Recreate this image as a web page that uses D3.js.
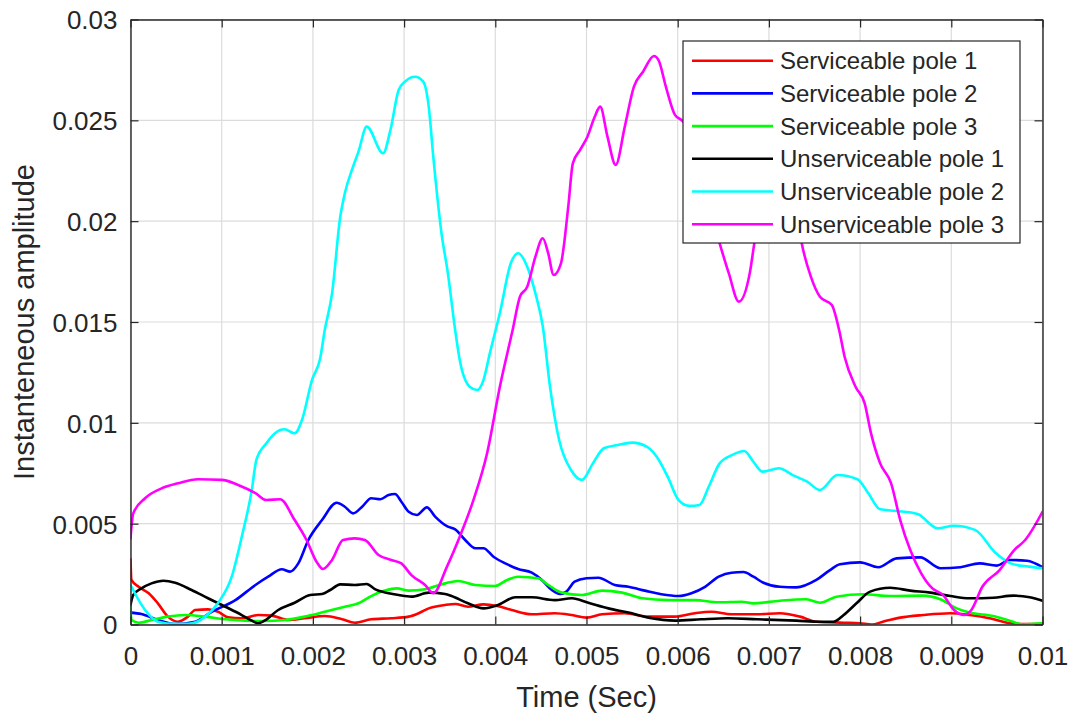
<!DOCTYPE html>
<html>
<head>
<meta charset="utf-8">
<script src="https://cdn.jsdelivr.net/npm/d3@7"></script>
<style>
  html, body { margin: 0; padding: 0; background: #fff; }
  svg { display: block; }
  text { font-family: "Liberation Sans", Arial, Helvetica, sans-serif; fill: #262626; }
</style>
</head>
<body>
<svg id="chart" width="1070" height="715"></svg>
<script>
// ---------------- data ----------------
const xTickValues = [0, 0.001, 0.002, 0.003, 0.004, 0.005, 0.006, 0.007, 0.008, 0.009, 0.01];
const xTickLabels = ["0", "0.001", "0.002", "0.003", "0.004", "0.005", "0.006", "0.007", "0.008", "0.009", "0.01"];
const yTickValues = [0, 0.005, 0.01, 0.015, 0.02, 0.025, 0.03];
const yTickLabels = ["0", "0.005", "0.01", "0.015", "0.02", "0.025", "0.03"];

const seriesNames = ["Serviceable pole 1", "Serviceable pole 2", "Serviceable pole 3",
                     "Unserviceable pole 1", "Unserviceable pole 2", "Unserviceable pole 3"];
const seriesColors = ["#ff0000", "#0000ff", "#00ff00", "#000000", "#00ffff", "#ff00ff"];

// [time (s), amplitude]
const serviceable1 = [[0,0.00323],[0.00001,0.00221],[0.00009,0.00187],[0.0002,0.00155],[0.0003,0.00105],[0.00041,0.00039],[0.00052,0.00014],[0.00063,0.00039],[0.00071,0.00072],[0.00085,0.00075],[0.00096,0.00063],[0.00107,0.00036],[0.00122,0.00031],[0.0014,0.00047],[0.00155,0.00044],[0.00173,0.00022],[0.00191,0.00031],[0.00213,0.00042],[0.00232,0.00026],[0.00246,0.00009],[0.00264,0.00026],[0.00286,0.00031],[0.00305,0.00039],[0.00316,0.00056],[0.00327,0.0008],[0.00345,0.00097],[0.00356,0.00102],[0.0037,0.00088],[0.00387,0.001],[0.00402,0.00092],[0.00418,0.00072],[0.0044,0.00051],[0.00465,0.00056],[0.00484,0.00047],[0.005,0.00034],[0.00517,0.00051],[0.00542,0.00056],[0.00568,0.00039],[0.00597,0.00039],[0.00619,0.00056],[0.00637,0.00063],[0.00659,0.00051],[0.00687,0.00051],[0.00712,0.00056],[0.00734,0.00039],[0.00752,0.00014],[0.00782,0.00009],[0.008,0.00006],[0.00813,0],[0.00825,0.00014],[0.00844,0.00034],[0.00869,0.00047],[0.00899,0.00056],[0.0092,0.00047],[0.00942,0.00031],[0.00961,0.00009],[0.00979,0.00002],[0.01,0.00002]];

const serviceable2 = [[0,0.00059],[0.00012,0.00052],[0.0003,0.00022],[0.00049,0.00002],[0.00071,0.00014],[0.00089,0.00063],[0.00115,0.00121],[0.00137,0.00196],[0.00151,0.00237],[0.00166,0.00274],[0.00175,0.00262],[0.00184,0.00303],[0.00195,0.00419],[0.0021,0.00518],[0.00226,0.00604],[0.00235,0.00584],[0.00244,0.00551],[0.00254,0.00584],[0.00264,0.00626],[0.00274,0.00621],[0.00283,0.00642],[0.0029,0.00647],[0.00297,0.00609],[0.00305,0.00559],[0.00314,0.00543],[0.00325,0.00581],[0.00334,0.00535],[0.00348,0.00485],[0.00356,0.00472],[0.00367,0.00419],[0.00378,0.00378],[0.00387,0.00378],[0.00398,0.00336],[0.00411,0.00303],[0.00425,0.00275],[0.0044,0.00257],[0.00451,0.00221],[0.00462,0.00171],[0.00471,0.00151],[0.00478,0.00163],[0.00487,0.00212],[0.005,0.00229],[0.00513,0.00232],[0.00531,0.00196],[0.00546,0.00187],[0.00564,0.00168],[0.00582,0.0015],[0.00601,0.00141],[0.00615,0.00155],[0.0063,0.00187],[0.00645,0.00237],[0.00659,0.00257],[0.00672,0.0026],[0.00683,0.00237],[0.00694,0.00207],[0.00712,0.00187],[0.0073,0.00184],[0.00752,0.00221],[0.00767,0.0027],[0.00778,0.00299],[0.008,0.00308],[0.0082,0.00284],[0.0084,0.00328],[0.00866,0.00333],[0.00888,0.00279],[0.0091,0.00284],[0.00931,0.00303],[0.0095,0.00292],[0.00964,0.0032],[0.00983,0.00316],[0.01,0.00284]];

const serviceable3 = [[0,0.00088],[0.00001,0.00022],[0.00009,0.00009],[0.00023,0.00022],[0.00041,0.00039],[0.0006,0.00047],[0.00082,0.00039],[0.00104,0.00026],[0.00126,0.00019],[0.00147,0.00017],[0.00169,0.00022],[0.00191,0.00039],[0.00213,0.00063],[0.00235,0.00088],[0.0025,0.00105],[0.00264,0.00141],[0.00279,0.00168],[0.00292,0.00179],[0.00305,0.00168],[0.00323,0.00175],[0.00345,0.00204],[0.00359,0.00216],[0.00378,0.00196],[0.004,0.00191],[0.00413,0.00221],[0.00425,0.00237],[0.00447,0.00229],[0.00458,0.00196],[0.00473,0.00158],[0.00495,0.00146],[0.00517,0.00168],[0.00539,0.00158],[0.00561,0.0013],[0.0059,0.00121],[0.00619,0.00121],[0.00645,0.0011],[0.0067,0.00113],[0.00683,0.00105],[0.00712,0.00118],[0.00741,0.00125],[0.00756,0.00108],[0.00774,0.00138],[0.00804,0.0015],[0.00833,0.00141],[0.00869,0.00143],[0.00888,0.00125],[0.00906,0.0008],[0.0092,0.00059],[0.00946,0.00042],[0.00964,0.00019],[0.00979,0],[0.0099,0.00004],[0.01,0.00006]];

const unserviceable1 = [[0,0.00097],[0.00003,0.00146],[0.00012,0.00179],[0.00023,0.00204],[0.00036,0.00217],[0.00049,0.00207],[0.00067,0.00171],[0.00085,0.0013],[0.00104,0.00088],[0.00122,0.00047],[0.00133,0.00019],[0.0014,0.00006],[0.00147,0.00019],[0.00162,0.00072],[0.0018,0.00108],[0.00197,0.00146],[0.0021,0.00151],[0.00219,0.00171],[0.0023,0.00199],[0.00246,0.00196],[0.00259,0.00201],[0.00268,0.00175],[0.00283,0.00155],[0.00294,0.00146],[0.00308,0.00138],[0.00327,0.00158],[0.00345,0.00151],[0.00352,0.00141],[0.0037,0.00105],[0.00387,0.0008],[0.00403,0.00097],[0.00422,0.00135],[0.0044,0.00135],[0.00465,0.00121],[0.00484,0.0013],[0.00502,0.00108],[0.00524,0.0008],[0.00546,0.00059],[0.00568,0.00034],[0.00597,0.00019],[0.00626,0.00026],[0.00655,0.00031],[0.00687,0.00026],[0.0073,0.00019],[0.00756,0.00014],[0.00771,0.00014],[0.00782,0.00047],[0.00796,0.00105],[0.00811,0.00163],[0.00833,0.00182],[0.00855,0.00168],[0.00877,0.00158],[0.00899,0.00141],[0.0092,0.0013],[0.00946,0.00133],[0.00968,0.00143],[0.00986,0.00135],[0.01,0.00118]];

const unserviceable2 = [[0,0.00196],[0.00016,0.00072],[0.0003,0.00014],[0.00049,0.00003],[0.00063,0.00003],[0.00082,0.00039],[0.00096,0.00107],[0.00111,0.00237],[0.00122,0.00435],[0.00133,0.00667],[0.00138,0.00816],[0.00149,0.00899],[0.00164,0.00964],[0.00169,0.00968],[0.0018,0.00948],[0.00188,0.01014],[0.00199,0.01212],[0.00208,0.0132],[0.00213,0.0146],[0.00221,0.01642],[0.0023,0.02022],[0.00235,0.02138],[0.00244,0.0227],[0.0025,0.02345],[0.00259,0.02469],[0.00277,0.02337],[0.00285,0.02452],[0.00294,0.0265],[0.00301,0.02692],[0.00312,0.02716],[0.00321,0.02692],[0.00327,0.02568],[0.00332,0.0232],[0.00341,0.0194],[0.00348,0.01742],[0.00356,0.0146],[0.00361,0.01312],[0.00372,0.01179],[0.0038,0.01163],[0.00387,0.01212],[0.00394,0.01345],[0.00405,0.01545],[0.00417,0.01791],[0.00425,0.01841],[0.00435,0.01774],[0.00444,0.01642],[0.00452,0.0148],[0.0046,0.01179],[0.0047,0.00915],[0.00483,0.00766],[0.00495,0.00717],[0.00507,0.00799],[0.00519,0.00874],[0.00534,0.0089],[0.0055,0.00902],[0.00566,0.00882],[0.00577,0.00832],[0.00589,0.00733],[0.00601,0.00617],[0.00613,0.00588],[0.00624,0.00593],[0.00634,0.00683],[0.00646,0.00799],[0.0066,0.00841],[0.00673,0.0086],[0.00683,0.00807],[0.00693,0.00758],[0.00711,0.00775],[0.00726,0.00741],[0.00742,0.00708],[0.00756,0.00667],[0.00775,0.00741],[0.00797,0.0072],[0.00809,0.00651],[0.00822,0.00571],[0.0084,0.00563],[0.00863,0.00548],[0.00885,0.00477],[0.00903,0.0049],[0.00926,0.00469],[0.00949,0.00353],[0.00965,0.00303],[0.00985,0.00287],[0.01,0.00279]];

const unserviceable3 = [[0,0.00427],[0.00003,0.00551],[0.00016,0.00626],[0.00034,0.00675],[0.00052,0.007],[0.00074,0.0072],[0.001,0.00717],[0.00118,0.00692],[0.00137,0.00651],[0.00149,0.00617],[0.00164,0.00621],[0.0018,0.00518],[0.00193,0.00419],[0.00204,0.00311],[0.00211,0.00275],[0.00221,0.0032],[0.00233,0.00419],[0.00246,0.00427],[0.00257,0.00419],[0.00272,0.00345],[0.00286,0.0032],[0.00297,0.00303],[0.00308,0.00245],[0.00323,0.00196],[0.00332,0.00155],[0.00347,0.00287],[0.00361,0.00435],[0.00376,0.00617],[0.00391,0.00849],[0.00405,0.01179],[0.00419,0.0146],[0.00427,0.01625],[0.00435,0.01675],[0.00444,0.01824],[0.00452,0.01915],[0.00458,0.01841],[0.00464,0.01733],[0.00472,0.01791],[0.0048,0.02072],[0.00485,0.02287],[0.00493,0.02353],[0.00501,0.02419],[0.00509,0.02518],[0.00515,0.02568],[0.00523,0.02419],[0.00532,0.02279],[0.00542,0.02469],[0.00552,0.02667],[0.00562,0.02741],[0.00574,0.02819],[0.00579,0.02799],[0.00587,0.02667],[0.00597,0.02527],[0.00605,0.02498],[0.0062,0.0238],[0.00636,0.0205],[0.00646,0.0189],[0.00656,0.01742],[0.00667,0.01601],[0.00679,0.01742],[0.00684,0.0189],[0.0069,0.0205],[0.0071,0.0225],[0.0073,0.0205],[0.00736,0.0189],[0.00746,0.01725],[0.00756,0.01625],[0.00769,0.01584],[0.00777,0.0146],[0.00783,0.01328],[0.00795,0.01179],[0.00805,0.01097],[0.00812,0.00948],[0.00822,0.00799],[0.00834,0.007],[0.00844,0.00518],[0.00855,0.00369],[0.00867,0.00254],[0.00879,0.0018],[0.00891,0.00146],[0.00903,0.00072],[0.00914,0.00047],[0.00922,0.00072],[0.00934,0.00187],[0.00953,0.0027],[0.00969,0.00369],[0.00981,0.00419],[0.01,0.00559]];

const seriesData = [serviceable1, serviceable2, serviceable3, unserviceable1, unserviceable2, unserviceable3];

// ---------------- layout ----------------
const svg = d3.select("#chart");
const W = 1070, H = 715;
const plot = { left: 130.5, right: 1042.5, top: 19.5, bottom: 624.5 };
const axisColor = "#262626";

svg.append("rect").attr("width", W).attr("height", H).attr("fill", "#fff");

const x = d3.scaleLinear().domain([0, 0.01]).range([plot.left, plot.right]);
const y = d3.scaleLinear().domain([0, 0.03]).range([plot.bottom, plot.top]);

// grid
const grid = svg.append("g");
grid.selectAll("line.gx").data(xTickValues).join("line")
  .attr("x1", d => x(d)).attr("x2", d => x(d))
  .attr("y1", plot.top).attr("y2", plot.bottom)
  .attr("stroke", "#dcdcdc").attr("stroke-width", 1.2);
grid.selectAll("line.gy").data(yTickValues).join("line")
  .attr("y1", d => y(d)).attr("y2", d => y(d))
  .attr("x1", plot.left).attr("x2", plot.right)
  .attr("stroke", "#dcdcdc").attr("stroke-width", 1.2);

// clip
svg.append("clipPath").attr("id", "clip").append("rect")
  .attr("x", plot.left).attr("y", plot.top - 2)
  .attr("width", plot.right - plot.left).attr("height", plot.bottom - plot.top + 2);

const line = d3.line()
  .x(d => x(d[0])).y(d => y(d[1]))
  .curve(d3.curveMonotoneX);

const lines = svg.append("g").attr("clip-path", "url(#clip)");
seriesData.forEach((data, i) => {
  const sorted = data.slice().sort((a, b) => a[0] - b[0]);
  lines.append("path")
    .attr("d", line(sorted))
    .attr("fill", "none")
    .attr("stroke", seriesColors[i])
    .attr("stroke-width", 2.6)
    .attr("stroke-linejoin", "round")
    .attr("stroke-linecap", "round");
});

// axes (ticks inward, box)
const tickLen = 8;
const xAxisB = d3.axisBottom(x).tickValues(xTickValues).tickFormat((d, i) => xTickLabels[i]).tickSizeInner(-tickLen).tickSizeOuter(0).tickPadding(20);
const xAxisT = d3.axisTop(x).tickValues(xTickValues).tickFormat("").tickSizeInner(-tickLen).tickSizeOuter(0);
const yAxisL = d3.axisLeft(y).tickValues(yTickValues).tickFormat((d, i) => yTickLabels[i]).tickSizeInner(-tickLen).tickSizeOuter(0).tickPadding(13);
const yAxisR = d3.axisRight(y).tickValues(yTickValues).tickFormat("").tickSizeInner(-tickLen).tickSizeOuter(0);

function styleAxis(g) {
  g.select(".domain").attr("stroke", axisColor).attr("stroke-width", 1.4);
  g.selectAll(".tick line").attr("stroke", axisColor).attr("stroke-width", 1.2);
  g.selectAll(".tick text").attr("fill", axisColor)
    .style("font-family", '"Liberation Sans", Arial, sans-serif').style("font-size", "26px");
}

svg.append("g").attr("transform", `translate(0,${plot.bottom})`).call(xAxisB).call(styleAxis)
  .selectAll(".tick text").attr("dy", "0.71em").attr("y", 22);
svg.append("g").attr("transform", `translate(0,${plot.top})`).call(xAxisT).call(styleAxis);
svg.append("g").attr("transform", `translate(${plot.left},0)`).call(yAxisL).call(styleAxis)
  .selectAll(".tick text").attr("dy", "0.36em");
svg.append("g").attr("transform", `translate(${plot.right},0)`).call(yAxisR).call(styleAxis);

// axis labels
svg.append("text")
  .attr("x", (plot.left + plot.right) / 2).attr("y", 707)
  .attr("text-anchor", "middle")
  .style("font-size", "29px")
  .text("Time (Sec)");
svg.append("text")
  .attr("transform", `translate(34,${(plot.top + plot.bottom) / 2}) rotate(-90)`)
  .attr("text-anchor", "middle")
  .style("font-size", "29px")
  .text("Instanteneous amplitude");

// legend
const legend = svg.append("g");
const lg = { x: 683, y: 41, w: 337, h: 202, row0: 60.7, rowH: 32.7 };
legend.append("rect")
  .attr("x", lg.x).attr("y", lg.y).attr("width", lg.w).attr("height", lg.h)
  .attr("fill", "#fff").attr("stroke", axisColor).attr("stroke-width", 1.2);
seriesNames.forEach((name, i) => {
  const cy = lg.row0 + i * lg.rowH;
  legend.append("line")
    .attr("x1", 692).attr("x2", 773).attr("y1", cy).attr("y2", cy)
    .attr("stroke", seriesColors[i]).attr("stroke-width", 2.6);
  legend.append("text")
    .attr("x", 780).attr("y", cy).attr("dy", "0.35em")
    .style("font-size", "24px")
    .text(name);
});
</script>
</body>
</html>
